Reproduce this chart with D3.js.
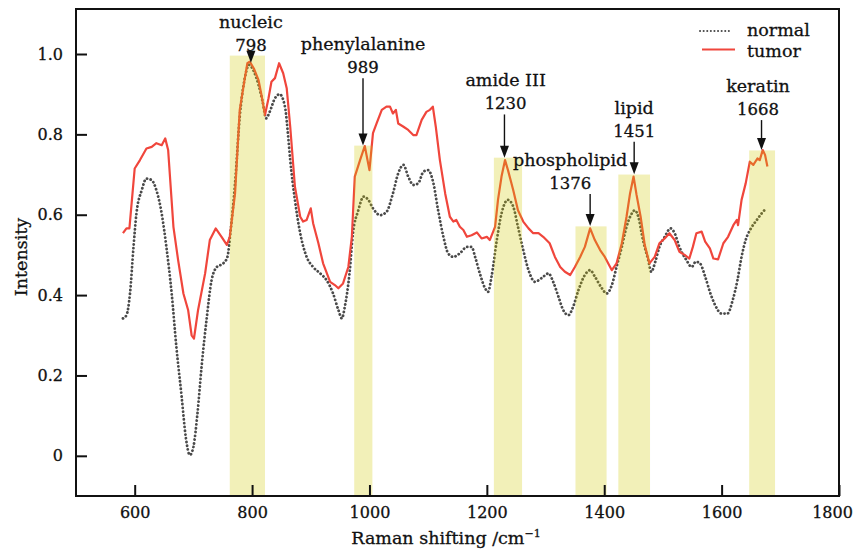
<!DOCTYPE html>
<html>
<head>
<meta charset="utf-8">
<script src="https://cdn.jsdelivr.net/npm/d3@7"></script>
<style>
  body { margin: 0; background: #fff; }
  svg { display: block; font-family: "DejaVu Serif", serif; }
  svg text { stroke: #111; stroke-width: 0.3px; }
</style>
</head>
<body>
<div id="chart"></div>
<script>
// Raman spectra, [shift in cm-1, intensity]
var tumor = [
  [580,0.554],[586,0.566],[591,0.566],[600,0.715],[609,0.736],[620,0.765],[629,0.769],[637,0.778],
  [646,0.773],[652,0.790],[657,0.761],[666,0.570],[674,0.487],[683,0.404],[691,0.363],[697,0.300],
  [701,0.292],[708,0.363],[720,0.454],[728,0.537],[738,0.566],[748,0.545],[757,0.525],[762,0.545],
  [771,0.653],[779,0.861],[788,0.943],[792,0.977],[796,0.981],[803,0.964],[811,0.935],[816,0.898],
  [822,0.848],[828,0.890],[833,0.931],[839,0.940],[846,0.977],[853,0.952],[859,0.915],[865,0.819],
  [873,0.670],[882,0.595],[887,0.583],[893,0.587],[900,0.616],[904,0.579],[913,0.529],[921,0.479],
  [933,0.433],[941,0.425],[947,0.417],[955,0.429],[964,0.470],[970,0.545],[975,0.695],[984,0.736],
  [992,0.771],[1000,0.711],[1006,0.803],[1012,0.827],[1021,0.861],[1029,0.869],[1035,0.869],
  [1040,0.852],[1045,0.861],[1049,0.827],[1058,0.819],[1066,0.811],[1075,0.798],[1080,0.798],
  [1089,0.836],[1097,0.856],[1103,0.861],[1108,0.869],[1113,0.819],[1120,0.736],[1129,0.653],
  [1137,0.595],[1143,0.583],[1148,0.587],[1154,0.570],[1160,0.562],[1166,0.545],[1174,0.549],
  [1183,0.556],[1191,0.541],[1200,0.545],[1205,0.537],[1214,0.570],[1219,0.637],[1225,0.695],
  [1231,0.736],[1236,0.711],[1245,0.661],[1253,0.611],[1262,0.583],[1271,0.566],[1279,0.554],
  [1288,0.554],[1296,0.545],[1307,0.529],[1316,0.495],[1325,0.470],[1333,0.458],[1342,0.450],
  [1350,0.470],[1359,0.495],[1367,0.520],[1376,0.566],[1384,0.537],[1393,0.512],[1401,0.495],
  [1413,0.462],[1421,0.479],[1430,0.529],[1438,0.595],[1444,0.653],[1450,0.695],[1455,0.650],
  [1462,0.595],[1469,0.525],[1477,0.479],[1486,0.495],[1494,0.529],[1503,0.541],[1511,0.554],
  [1520,0.537],[1528,0.508],[1537,0.500],[1545,0.491],[1551,0.520],[1557,0.554],[1566,0.558],
  [1572,0.533],[1580,0.516],[1586,0.491],[1594,0.489],[1603,0.529],[1611,0.545],[1620,0.574],
  [1626,0.587],[1628,0.574],[1634,0.637],[1641,0.678],[1648,0.732],[1654,0.724],[1661,0.740],
  [1665,0.736],[1670,0.761],[1674,0.749],[1678,0.720]
];

var normal = [
  [580,0.342],[586,0.350],[592,0.404],[598,0.520],[603,0.603],[612,0.661],[620,0.690],[629,0.686],
  [637,0.661],[646,0.603],[654,0.520],[663,0.404],[671,0.271],[680,0.147],[687,0.047],[694,0.002],
  [700,0.022],[707,0.106],[714,0.222],[723,0.346],[731,0.437],[740,0.470],[751,0.479],[758,0.495],
  [763,0.554],[771,0.678],[779,0.844],[788,0.943],[795,0.973],[802,0.960],[811,0.923],[818,0.881],
  [824,0.840],[830,0.856],[839,0.890],[847,0.900],[856,0.869],[862,0.786],[865,0.736],[873,0.637],
  [882,0.554],[893,0.495],[904,0.470],[916,0.454],[927,0.437],[938,0.404],[947,0.363],[953,0.342],
  [958,0.371],[966,0.454],[972,0.554],[981,0.611],[990,0.645],[998,0.637],[1006,0.616],[1018,0.599],
  [1029,0.607],[1040,0.653],[1049,0.703],[1058,0.724],[1066,0.695],[1075,0.674],[1083,0.678],
  [1092,0.707],[1100,0.711],[1109,0.678],[1117,0.611],[1126,0.545],[1134,0.504],[1143,0.495],
  [1154,0.504],[1166,0.520],[1174,0.520],[1180,0.495],[1188,0.454],[1197,0.417],[1202,0.408],
  [1208,0.446],[1217,0.537],[1225,0.603],[1236,0.637],[1245,0.620],[1253,0.570],[1262,0.512],
  [1271,0.462],[1282,0.433],[1293,0.442],[1305,0.454],[1313,0.433],[1322,0.396],[1330,0.363],
  [1339,0.350],[1347,0.371],[1356,0.412],[1367,0.450],[1376,0.462],[1384,0.446],[1396,0.417],
  [1404,0.404],[1413,0.425],[1421,0.470],[1430,0.520],[1438,0.570],[1447,0.603],[1452,0.611],
  [1458,0.595],[1466,0.537],[1475,0.487],[1480,0.458],[1487,0.483],[1494,0.520],[1503,0.545],
  [1513,0.566],[1520,0.554],[1528,0.520],[1540,0.487],[1549,0.470],[1556,0.483],[1563,0.479],
  [1572,0.446],[1580,0.408],[1589,0.375],[1600,0.354],[1610,0.354],[1619,0.388],[1627,0.437],
  [1634,0.495],[1641,0.537],[1650,0.566],[1660,0.587],[1668,0.603],[1676,0.616]
];

// highlighted bands
var bandStart = [762, 974, 1212, 1351, 1424, 1647];
var bandEnd   = [822, 1005, 1260, 1404, 1478, 1691];
var bandTop   = [0.996, 0.772, 0.742, 0.571, 0.70, 0.76];

// peak annotations
var peakNames = ["nucleic", "phenylalanine", "amide III", "phospholipid", "lipid", "keratin"];
var peakShift = [798, 989, 1230, 1376, 1451, 1668];
var peakTip   = [0.978, 0.772, 0.742, 0.572, 0.701, 0.761];   // arrow tip
var peakLabel = [1.008, 0.952, 0.862, 0.664, 0.794, 0.848];   // baseline of the number
var labelShift = [798, 989, 1232, 1342, 1451, 1662];

var xTicks = [600, 800, 1000, 1200, 1400, 1600, 1800];
var yTicks = [0, 0.2, 0.4, 0.6, 0.8, 1.0];

var W = 856, H = 551;
var margin = {left: 76, top: 9, right: 17, bottom: 55};
var w = W - margin.left - margin.right,
    h = H - margin.top - margin.bottom;

var x = d3.scaleLinear().domain([500, 1800]).range([0, w]);
var y = d3.scaleLinear().domain([-0.1, 1.112]).range([h, 0]);

var svg = d3.select("#chart").append("svg")
    .attr("width", W).attr("height", H);

var g = svg.append("g")
    .attr("transform", "translate(" + margin.left + "," + margin.top + ")");

var line = d3.line()
    .x(function (d) { return x(d[0]); })
    .y(function (d) { return y(d[1]); });

// normal: dotted grey
g.append("path")
    .datum(normal)
    .attr("d", line.curve(d3.curveMonotoneX))
    .attr("fill", "none")
    .attr("stroke", "#4a4a4a")
    .attr("stroke-width", 2.8)
    .attr("stroke-linecap", "round")
    .attr("stroke-dasharray", "0.1 3.7");

// tumor: red
g.append("path")
    .datum(tumor)
    .attr("d", line.curve(d3.curveLinear))
    .attr("fill", "none")
    .attr("stroke", "#f0463c")
    .attr("stroke-width", 2.2)
    .attr("stroke-linejoin", "round");

// yellow bands laid over the lines
g.selectAll("rect.band")
    .data(bandStart)
    .enter().append("rect")
    .attr("class", "band")
    .attr("x", function (d) { return x(d); })
    .attr("width", function (d, i) { return x(bandEnd[i]) - x(d); })
    .attr("y", function (d, i) { return y(bandTop[i]); })
    .attr("height", function (d, i) { return h - y(bandTop[i]); })
    .attr("fill", "rgb(207,200,0)")
    .attr("fill-opacity", 0.28);

// annotations
var ann = g.selectAll("g.ann")
    .data(peakNames)
    .enter().append("g")
    .attr("class", "ann");

ann.append("text")
    .attr("x", function (d, i) { return x(labelShift[i]); })
    .attr("y", function (d, i) { return y(peakLabel[i]) - 23; })
    .attr("text-anchor", "middle")
    .attr("font-size", 17.5)
    .attr("fill", "#111")
    .text(function (d) { return d; });

ann.append("text")
    .attr("x", function (d, i) { return x(labelShift[i]); })
    .attr("y", function (d, i) { return y(peakLabel[i]); })
    .attr("text-anchor", "middle")
    .attr("font-size", 16.5)
    .attr("fill", "#111")
    .text(function (d, i) { return peakShift[i]; });

ann.append("line")
    .attr("x1", function (d, i) { return x(peakShift[i]); })
    .attr("x2", function (d, i) { return x(peakShift[i]); })
    .attr("y1", function (d, i) { return y(peakLabel[i]) + 5; })
    .attr("y2", function (d, i) { return y(peakTip[i]) - 8; })
    .attr("stroke", "#111")
    .attr("stroke-width", 1.4);

ann.append("path")
    .attr("d", function (d, i) {
        var px = x(peakShift[i]), py = y(peakTip[i]);
        return "M" + (px - 4.5) + "," + (py - 12) + "L" + (px + 4.5) + "," + (py - 12) + "L" + px + "," + py + "Z";
    })
    .attr("fill", "#111");

// axes with inward ticks
var xAxis = g.append("g")
    .attr("transform", "translate(0," + h + ")")
    .call(d3.axisBottom(x).tickValues(xTicks).tickSize(-11).tickPadding(11)
        .tickFormat(d3.format("d")));

var yAxis = g.append("g")
    .call(d3.axisLeft(y).tickValues(yTicks).tickSize(-11).tickPadding(13)
        .tickFormat(function (d) { return d === 0 ? "0" : d3.format(".1f")(d); }));

[xAxis, yAxis].forEach(function (a) {
    a.select(".domain").remove();
    a.selectAll(".tick line").attr("stroke", "#111").attr("stroke-width", 2);
    a.selectAll(".tick text")
        .attr("font-family", "DejaVu Serif, serif")
        .attr("font-size", 16)
        .attr("fill", "#111");
});
// last label sits inside the window
xAxis.selectAll(".tick text").filter(function (d) { return d === 1800; }).attr("dx", -7);

// frame
g.append("rect")
    .attr("width", w).attr("height", h)
    .attr("fill", "none")
    .attr("stroke", "#111")
    .attr("stroke-width", 2);

// axis titles
var xt = svg.append("text")
    .attr("x", 446)
    .attr("y", 544)
    .attr("text-anchor", "middle")
    .attr("font-size", 17.5)
    .attr("fill", "#111")
    .text("Raman shifting /cm");
xt.append("tspan").attr("font-size", 11).attr("dy", -7).text("\u22121");

svg.append("text")
    .attr("transform", "translate(27,257) rotate(-90)")
    .attr("text-anchor", "middle")
    .attr("font-size", 17.5)
    .attr("fill", "#111")
    .text("Intensity");

// legend
var legend = svg.append("g");
legend.append("line")
    .attr("x1", 700).attr("x2", 731).attr("y1", 31).attr("y2", 31)
    .attr("stroke", "#4a4a4a").attr("stroke-width", 2)
    .attr("stroke-linecap", "round").attr("stroke-dasharray", "0.1 3.5");
legend.append("line")
    .attr("x1", 702).attr("x2", 735).attr("y1", 49.5).attr("y2", 49.5)
    .attr("stroke", "#f0463c").attr("stroke-width", 2.2);
legend.append("text").attr("x", 747).attr("y", 36).attr("font-size", 17.5).attr("fill", "#111").text("normal");
legend.append("text").attr("x", 747).attr("y", 57).attr("font-size", 17.5).attr("fill", "#111").text("tumor");
</script>
</body>
</html>
